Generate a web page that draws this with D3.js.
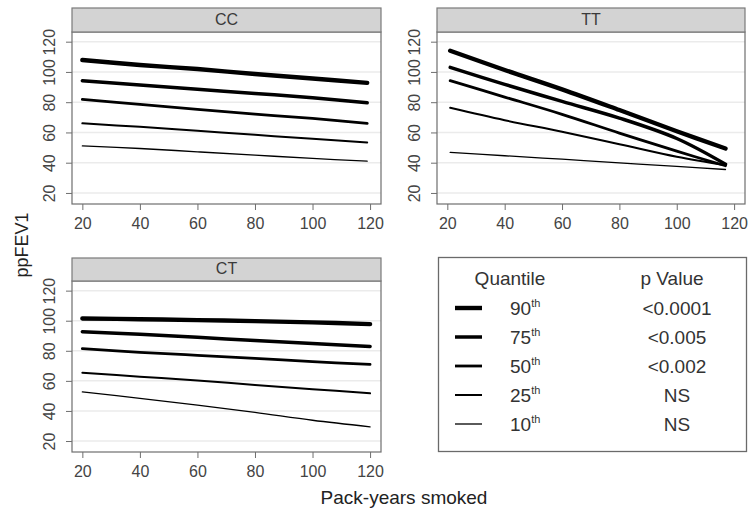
<!DOCTYPE html>
<html>
<head>
<meta charset="utf-8">
<script src="https://cdn.jsdelivr.net/npm/d3@7"></script>
<style>
  body { margin: 0; background: #fff; }
  svg { display: block; font-family: "Liberation Sans", Arial, sans-serif; }
</style>
</head>
<body>
<svg id="viz" width="749" height="510"></svg>
<script>
// quantile regression lines, ppFEV1 vs pack-years, by genotype
var quantiles = ["90", "75", "50", "25", "10"]
var pValues = ["<0.0001", "<0.005", "<0.002", "NS", "NS"]
var yTicks = [20, 40, 60, 80, 100, 120]
var xTicks = [20, 40, 60, 80, 100, 120]

var ccX = [20, 40, 60, 80, 100, 119]
var cc90 = [107.9, 104.6, 101.9, 98.6, 95.7, 92.8]
var cc75 = [94.2, 91.3, 88.5, 85.8, 82.9, 79.6]
var cc50 = [81.9, 78.5, 75.2, 72.1, 69.3, 66.0]
var cc25 = [66.0, 63.7, 61.1, 58.4, 55.8, 53.4]
var cc10 = [51.1, 49.4, 47.2, 45.0, 42.8, 41.0]

var ttX = [21, 40, 60, 80, 100, 117]
var tt90 = [114.0, 101.3, 88.5, 74.8, 60.8, 49.4]
var tt75 = [103.0, 91.8, 80.5, 69.5, 56.0, 39.0]
var tt50 = [94.2, 83.4, 72.0, 59.6, 47.6, 38.0]
var tt25 = [76.3, 68.1, 60.4, 52.2, 43.9, 38.3]
var tt10 = [46.8, 44.6, 42.3, 39.9, 37.6, 35.5]

var ctX = [20, 40, 60, 80, 100, 120]
var ct90 = [101.5, 101.0, 100.4, 99.7, 98.9, 97.7]
var ct75 = [92.7, 91.0, 89.0, 86.8, 84.8, 82.9]
var ct50 = [81.4, 79.0, 77.0, 75.0, 72.8, 70.9]
var ct25 = [65.4, 62.8, 60.2, 57.3, 54.5, 51.7]
var ct10 = [52.7, 48.4, 43.8, 39.0, 33.8, 29.4]

var panels = [
    {name: "CC", x: ccX, series: [cc90, cc75, cc50, cc25, cc10], left: 72, right: 381, stripTop: 8, top: 32, bottom: 204},
    {name: "TT", x: ttX, series: [tt90, tt75, tt50, tt25, tt10], left: 437, right: 745, stripTop: 8, top: 32, bottom: 204},
    {name: "CT", x: ctX, series: [ct90, ct75, ct50, ct25, ct10], left: 72, right: 381, stripTop: 258, top: 281, bottom: 452}
]

var lineWidth = d3.scaleOrdinal().domain(quantiles).range([4.4, 3.5, 2.8, 2.0, 1.3])
var viz = d3.select("#viz")

panels.forEach(function (p) {
    let g = viz.append("g").attr("class", "panel")
    let x = d3.scaleLinear().domain([16.4, 123.8]).range([p.left, p.right])
    let y = d3.scaleLinear().domain([12.7, 126.4]).range([p.bottom, p.top])

    // faint grid
    g.append("g").selectAll("line")
        .data(yTicks)
        .enter().append("line")
        .attr("x1", p.left).attr("x2", p.right)
        .attr("y1", d => y(d)).attr("y2", d => y(d))
        .style("stroke", "#ebebeb")
        .style("stroke-width", 1.5)

    let line = d3.line()
        .x(d => x(d[0]))
        .y(d => y(d[1]))
        .curve(d3.curveCatmullRom.alpha(0.5))

    g.append("g").selectAll("path")
        .data(p.series.map((s, i) => ({q: quantiles[i], pts: s.map((v, j) => [p.x[j], v])})))
        .enter().append("path")
        .attr("d", d => line(d.pts))
        .style("fill", "none")
        .style("stroke", "#000")
        .style("stroke-width", d => lineWidth(d.q))
        .style("stroke-linecap", "round")

    // panel box
    g.append("rect")
        .attr("x", p.left).attr("y", p.top)
        .attr("width", p.right - p.left).attr("height", p.bottom - p.top)
        .style("fill", "none").style("stroke", "#6e6e6e").style("stroke-width", 1.2)

    // strip
    g.append("rect")
        .attr("x", p.left).attr("y", p.stripTop)
        .attr("width", p.right - p.left).attr("height", p.top - p.stripTop)
        .style("fill", "#d3d3d3").style("stroke", "#7a7a7a").style("stroke-width", 1.2)
    g.append("text")
        .attr("x", (p.left + p.right) / 2)
        .attr("y", p.top - 7)
        .attr("text-anchor", "middle")
        .attr("font-size", 16)
        .attr("fill", "#3a3a3a")
        .text(p.name)

    let yAxis = g.append("g")
        .attr("transform", `translate(${p.left},0)`)
        .call(d3.axisLeft(y).tickValues(yTicks).tickSize(6).tickSizeOuter(0))
    yAxis.select(".domain").remove()
    yAxis.selectAll("line").style("stroke", "#6e6e6e")
    yAxis.selectAll("text")
        .attr("x", null).attr("dy", null)
        .attr("transform", "translate(-17,0) rotate(-90)")
        .attr("text-anchor", "middle")
        .attr("font-size", 16)
        .attr("font-family", null)
        .attr("fill", "#444")

    let xAxis = g.append("g")
        .attr("transform", `translate(0,${p.bottom})`)
        .call(d3.axisBottom(x).tickValues(xTicks).tickSize(6).tickSizeOuter(0))
    xAxis.select(".domain").remove()
    xAxis.selectAll("line").style("stroke", "#6e6e6e")
    xAxis.selectAll("text")
        .attr("y", 25).attr("dy", null)
        .attr("font-size", 16)
        .attr("font-family", null)
        .attr("fill", "#444")
})

// axis titles
viz.append("text")
    .attr("transform", "translate(28,245) rotate(-90)")
    .attr("text-anchor", "middle")
    .attr("font-size", 18)
    .attr("fill", "#222")
    .text("ppFEV1")

viz.append("text")
    .attr("x", 404).attr("y", 504)
    .attr("text-anchor", "middle")
    .attr("font-size", 19)
    .attr("fill", "#222")
    .text("Pack-years smoked")

// legend
let legend = viz.append("g").attr("id", "legend")
legend.append("rect")
    .attr("x", 438.5).attr("y", 257.5)
    .attr("width", 308).attr("height", 194)
    .style("fill", "#fff").style("stroke", "#6a6a6a").style("stroke-width", 1.3)

legend.append("text")
    .attr("x", 510).attr("y", 285)
    .attr("text-anchor", "middle")
    .attr("font-size", 19).attr("fill", "#333")
    .text("Quantile")
legend.append("text")
    .attr("x", 672).attr("y", 285)
    .attr("text-anchor", "middle")
    .attr("font-size", 19).attr("fill", "#333")
    .text("p Value")

let rows = legend.selectAll("g.row")
    .data(quantiles.map((q, i) => ({q: q, p: pValues[i], i: i})))
    .enter().append("g")
    .attr("class", "row")
    .attr("transform", d => `translate(0,${308 + d.i * 29})`)

rows.append("line")
    .attr("x1", 455).attr("x2", 482)
    .attr("y1", 0).attr("y2", 0)
    .style("stroke", "#000")
    .style("stroke-width", d => lineWidth(d.q))

let qText = rows.append("text")
    .attr("x", 510).attr("y", 7)
    .attr("font-size", 19).attr("fill", "#333")
qText.append("tspan").text(d => d.q)
qText.append("tspan")
    .attr("font-size", 11)
    .attr("dy", -8)
    .text("th")

rows.append("text")
    .attr("x", 677).attr("y", 7)
    .attr("text-anchor", "middle")
    .attr("font-size", 19).attr("fill", "#333")
    .text(d => d.p)
</script>
</body>
</html>
